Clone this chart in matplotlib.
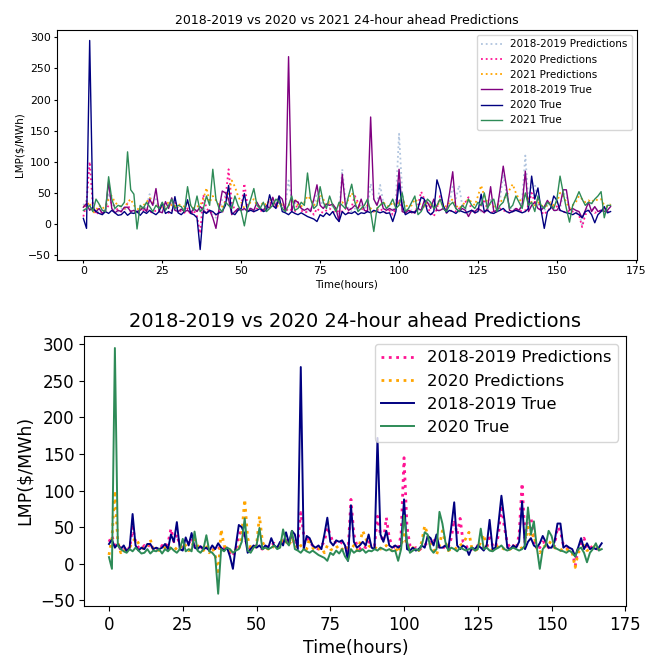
import numpy as np
import matplotlib
matplotlib.use('Agg')
import matplotlib.pyplot as plt

# Horas (0..167)
horas = np.arange(168)

# LMP ($/MWh)
verdad_2018_2019 = [27, 33, 22, 27, 20, 25, 17, 22, 68, 25, 18, 22, 20, 27, 27, 20, 22, 20, 22, 27,
                    20, 40, 30, 57, 20, 18, 36, 25, 42, 22, 20, 24, 20, 22, 18, 25, 20, 28, 22, 18,
                    22, 10, -7, 25, 53, 50, 40, 15, 20, 25, 22, 25, 20, 25, 22, 35, 25, 22, 30, 25,
                    43, 28, 45, 40, 20, 269, 20, 38, 35, 25, 22, 25, 20, 40, 63, 30, 25, 32, 30, 32,
                    25, 4, 80, 30, 22, 25, 30, 25, 40, 22, 20, 172, 40, 30, 45, 25, 22, 25, 22, 25,
                    88, 20, 18, 22, 18, 20, 25, 22, 38, 35, 25, 40, 22, 22, 25, 20, 50, 84, 25, 20,
                    25, 22, 12, 22, 20, 25, 22, 18, 25, 60, 20, 22, 55, 93, 60, 22, 20, 25, 22, 30,
                    85, 20, 30, 35, 25, 22, 28, 38, 30, 22, 22, 30, 55, 55, 22, 25, 22, 20, 10, 22,
                    35, 20, 28, 20, 22, 20, 22, 28]

verdad_2020 = [9, -7, 295, 25, 20, 17, 15, 20, 17, 22, 18, 14, 15, 20, 14, 18, 17, 20, 14, 20,
               17, 22, 18, 15, 20, 34, 17, 20, 17, 44, 18, 15, 20, 39, 17, 15, 10, -41, 20, 17,
               22, 20, 15, 18, 20, 30, 62, 18, 15, 22, 25, 49, 20, 22, 20, 22, 25, 20, 22, 47,
               30, 25, 45, 20, 18, 15, 20, 17, 15, 18, 15, 12, 10, 8, 4, 15, 12, 18, 14, 20,
               10, 4, 20, 15, 18, 17, 20, 15, 18, 17, 20, 18, 22, 20, 18, 20, 17, 18, 4, 20,
               66, 30, 15, 18, 20, 18, 25, 43, 40, 20, 15, 20, 71, 55, 30, 18, 22, 20, 17, 22,
               20, 18, 20, 22, 18, 20, 48, 20, 22, 18, 17, 20, 22, 25, 20, 18, 20, 22, 20, 18,
               20, 25, 77, 40, 58, 22, -7, 20, 25, 45, 38, 22, 20, 18, 17, 15, 18, 15, 10, 20,
               22, 15, 2, 15, 20, 28, 18, 20]

verdad_2021 = [22, 25, 30, 20, 40, 32, 22, 20, 76, 40, 25, 30, 28, 35, 116, 55, 48, -8, 30, 25,
               35, 28, 20, 30, 25, 35, 22, 30, 40, 25, 30, 28, 20, 60, 30, 22, 45, 20, 25, 45,
               30, 88, 40, 25, 20, 35, 30, 25, 45, 30, 20, -3, 25, 40, 57, 30, 25, 35, 20, 25,
               30, 40, 35, 25, 20, 30, 45, 22, 25, 35, 30, 82, 40, 25, 30, 60, 35, 25, 45, 30,
               20, 35, 30, 25, 45, 64, 35, 20, 25, 30, 40, 20, -12, 25, 30, 35, 25, 30, 40, 25,
               30, 50, 20, 25, 35, 45, 15, 20, 30, 40, 35, 25, 30, 40, 25, 20, 30, 35, 25, 20,
               30, 25, 40, 30, 25, 35, 30, 50, 25, 35, 40, 20, 30, 35, 50, 25, 30, 45, 35, 25,
               50, 30, 35, 20, 45, 30, 25, 35, 30, 25, 40, 77, 50, 25, 3, 30, 40, 52, 40, 30,
               35, 33, 40, 45, 52, 10, 30, 30]

pred_2018_2019 = [30, 38, 25, 20, 22, 18, 25, 20, 50, 30, 22, 20, 25, 22, 28, 20, 22, 18, 25, 22,
                  28, 48, 30, 40, 25, 20, 30, 28, 35, 25, 22, 20, 25, 22, 20, 18, 22, 20, 25, 22,
                  18, 15, 10, 20, 40, 45, 35, 25, 20, 22, 25, 22, 20, 25, 22, 25, 28, 22, 25, 30,
                  35, 30, 38, 25, 30, 70, 40, 35, 30, 25, 22, 20, 25, 30, 50, 40, 28, 30, 32, 28,
                  25, 15, 88, 40, 25, 20, 25, 22, 30, 28, 25, 65, 40, 30, 63, 35, 25, 22, 20, 40,
                  145, 50, 25, 20, 22, 18, 22, 25, 30, 28, 35, 25, 22, 20, 25, 22, 35, 60, 40, 62,
                  30, 25, 18, 20, 22, 25, 20, 22, 20, 40, 25, 22, 40, 80, 50, 28, 22, 25, 20, 40,
                  110, 35, 65, 65, 30, 25, 22, 30, 28, 22, 20, 25, 50, 45, 25, 22, 20, 18, -3, 20,
                  28, 35, 22, 25, 20, 22, 18, 20]

pred_2020 = [12, 35, 100, 30, 15, 20, 18, 22, 30, 35, 28, 22, 20, 25, 33, 20, 22, 18, 20, 22,
             25, 20, 18, 22, 20, 28, 25, 18, 20, 35, 25, 20, 18, 25, 15, 22, 12, -15, 47, 25,
             20, 18, 15, 20, 18, 40, 88, 35, 22, 20, 25, 65, 30, 22, 20, 25, 22, 20, 28, 35,
             30, 25, 35, 28, 20, 25, 22, 20, 35, 22, 18, 20, 22, 15, 25, 20, 18, 22, 25, 20,
             18, 22, 20, 25, 18, 28, 45, 35, 25, 22, 20, 25, 20, 22, 25, 20, 18, 22, 15, 25,
             40, 25, 18, 22, 20, 18, 30, 52, 40, 25, 20, 12, 25, 45, 30, 18, 20, 22, 20, 25,
             28, 35, 43, 20, 18, 20, 30, 40, 22, 20, 18, 20, 25, 22, 20, 18, 20, 25, 22, 20,
             22, 30, 50, 35, 40, 20, 15, 22, 25, 30, 28, 22, 20, 18, 22, 20, 18, 15, -5, 15,
             20, 25, 18, 20, 22, 25, 20, 18]

pred_2021 = [28, 30, 35, 18, 22, 30, 25, 28, 40, 45, 35, 30, 28, 25, 35, 40, 30, 25, 22, 30,
             35, 42, 35, 30, 28, 25, 30, 35, 30, 28, 32, 30, 28, 35, 30, 25, 28, 30, 40, 58,
             35, 45, 38, 30, 28, 35, 50, 70, 60, 45, 35, 25, 30, 35, 40, 30, 28, 35, 30, 40,
             35, 30, 28, 35, 25, 30, 35, 40, 30, 28, 35, 45, 40, 30, 35, 48, 40, 30, 35, 30,
             25, 30, 35, 30, 40, 50, 40, 30, 25, 28, 30, 25, 20, 25, 30, 35, 30, 28, 35, 30,
             35, 40, 30, 28, 30, 40, 35, 30, 28, 35, 30, 28, 30, 35, 30, 28, 35, 40, 30, 25,
             30, 35, 40, 35, 30, 45, 62, 45, 35, 30, 28, 30, 35, 40, 45, 55, 64, 50, 40, 35,
             50, 40, 35, 30, 35, 30, 28, 30, 35, 30, 35, 50, 45, 35, 25, 30, 35, 45, 40, 35,
             38, 35, 40, 38, 40, 30, 28, 32]

fig = plt.figure(figsize=(6.59, 6.57), dpi=100)

# Grafico superior: 2018-2019 vs 2020 vs 2021
ax1 = fig.add_axes([0.0865, 0.6043, 0.880, 0.350])
ax1.plot(horas, pred_2018_2019, ':', color='lightsteelblue', lw=1.3, label='2018-2019 Predictions')
ax1.plot(horas, pred_2020, ':', color='deeppink', lw=1.3, label='2020 Predictions')
ax1.plot(horas, pred_2021, ':', color='orange', lw=1.3, label='2021 Predictions')
ax1.plot(horas, verdad_2018_2019, color='purple', lw=1.0, label='2018-2019 True')
ax1.plot(horas, verdad_2020, color='navy', lw=1.0, label='2020 True')
ax1.plot(horas, verdad_2021, color='seagreen', lw=1.0, label='2021 True')
ax1.set_title('2018-2019 vs 2020 vs 2021 24-hour ahead Predictions', fontsize=9, pad=4)
ax1.set_xlabel('Time(hours)', fontsize=7.5, labelpad=2)
ax1.set_ylabel('LMP($/MWh)', fontsize=7.5, labelpad=2)
ax1.tick_params(labelsize=7.8, length=2.5, pad=2)
ax1.legend(loc='upper right', fontsize=7.5)

# Grafico inferior: 2018-2019 vs 2020
ax2 = fig.add_axes([0.128, 0.0776, 0.8225, 0.4114])
ax2.plot(horas, pred_2018_2019, ':', color='deeppink', lw=2, label='2018-2019 Predictions')
ax2.plot(horas, pred_2020, ':', color='orange', lw=2, label='2020 Predictions')
ax2.plot(horas, verdad_2018_2019, color='navy', lw=1.4, label='2018-2019 True')
ax2.plot(horas, verdad_2020, color='seagreen', lw=1.4, label='2020 True')
ax2.set_title('2018-2019 vs 2020 24-hour ahead Predictions', fontsize=14)
ax2.set_xlabel('Time(hours)', fontsize=12.5)
ax2.set_ylabel('LMP($/MWh)', fontsize=12.5)
ax2.tick_params(labelsize=12)
ax2.legend(loc='upper right', fontsize=11.8)

fig.savefig('out.png', dpi=100)
